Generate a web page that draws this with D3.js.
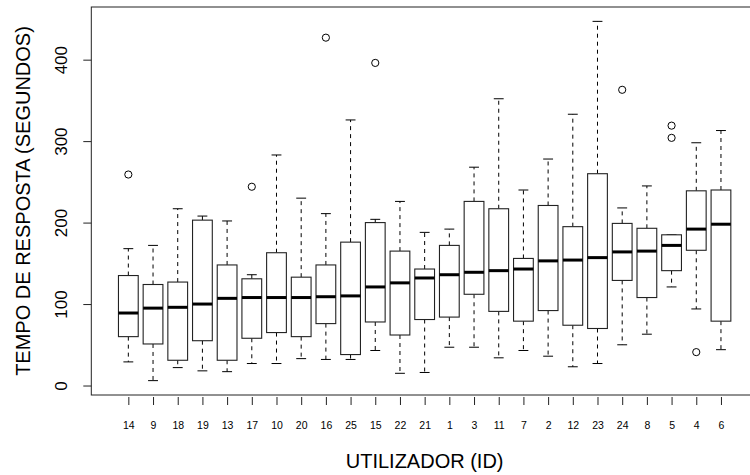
<!DOCTYPE html>
<html>
<head>
<meta charset="utf-8">
<script src="https://cdn.jsdelivr.net/npm/d3@7"></script>
<style>
    body { margin: 0; background: #fff; }
    svg { display: block; font-family: "Liberation Sans", Arial, sans-serif; }
</style>
</head>
<body>
<div id="chart"></div>
<script>
// users, in the order they are plotted (sorted by median)
const ids = [14, 9, 18, 19, 13, 17, 10, 20, 16, 25, 15, 22, 21, 1, 3, 11, 7, 2, 12, 23, 24, 8, 5, 4, 6];

// five number summaries (seconds)
const whiskerLow = [29, 6, 22, 18, 17, 27, 27, 33, 32, 32, 43, 15, 16, 47, 47, 34, 43, 36, 23, 27, 50, 63, 121, 94, 44];
const q1 = [60, 51, 31, 55, 31, 58, 65, 60, 76, 38, 78, 62, 81, 84, 112, 91, 79, 92, 74, 70, 129, 108, 141, 166, 79];
const medians = [89, 95, 96, 100, 107, 108, 108, 108, 109, 110, 121, 126, 132, 136, 139, 141, 143, 153, 154, 157, 164, 165, 172, 192, 198];
const q3 = [135, 124, 127, 203, 148, 131, 163, 133, 148, 176, 200, 165, 143, 172, 226, 217, 156, 221, 195, 260, 199, 193, 185, 239, 240];
const whiskerHigh = [168, 172, 217, 208, 202, 136, 283, 230, 211, 326, 204, 226, 188, 192, 268, 352, 240, 278, 333, 447, 218, 245, 185, 298, 313];

// outliers: user id + value
const outlierIds = [14, 17, 16, 15, 24, 5, 5, 4];
const outlierValues = [259, 244, 427, 396, 363, 319, 304, 41];

const yTicks = [0, 100, 200, 300, 400];

const width = 750;
const height = 475;
const plot = { left: 91.3, right: 758, top: 7, bottom: 395 };

const boxes = ids.map((id, i) => ({
    id: id,
    pos: i + 1,
    lo: whiskerLow[i],
    q1: q1[i],
    med: medians[i],
    q3: q3[i],
    hi: whiskerHigh[i]
}));
const outliers = outlierIds.map((id, i) => ({ pos: ids.indexOf(id) + 1, value: outlierValues[i] }));

// R style 4% extension of the data range
const allVals = whiskerLow.concat(whiskerHigh, outlierValues);
const yMin = d3.min(allVals), yMax = d3.max(allVals);
const pad = (yMax - yMin) * 0.04;

const x = d3.scaleLinear()
    .domain([-0.5, ids.length + 1.5])
    .range([plot.left, plot.right]);

const y = d3.scaleLinear()
    .domain([yMin - pad, yMax + pad])
    .range([plot.bottom, plot.top]);

const svg = d3.select('#chart').append('svg')
    .attr('width', width)
    .attr('height', height);

const unit = x(1) - x(0);
const boxW = unit * 0.8;
const capW = boxW / 2;

const g = svg.selectAll('g.box')
    .data(boxes)
    .enter()
    .append('g')
    .attr('class', 'box');

// dashed whiskers
g.append('line')
    .attr('x1', d => x(d.pos)).attr('x2', d => x(d.pos))
    .attr('y1', d => y(d.q3)).attr('y2', d => y(d.hi))
    .attr('stroke', '#000').attr('stroke-dasharray', '4,4');
g.append('line')
    .attr('x1', d => x(d.pos)).attr('x2', d => x(d.pos))
    .attr('y1', d => y(d.q1)).attr('y2', d => y(d.lo))
    .attr('stroke', '#000').attr('stroke-dasharray', '4,4');

// caps
g.append('line')
    .attr('x1', d => x(d.pos) - capW / 2).attr('x2', d => x(d.pos) + capW / 2)
    .attr('y1', d => y(d.hi)).attr('y2', d => y(d.hi))
    .attr('stroke', '#000');
g.append('line')
    .attr('x1', d => x(d.pos) - capW / 2).attr('x2', d => x(d.pos) + capW / 2)
    .attr('y1', d => y(d.lo)).attr('y2', d => y(d.lo))
    .attr('stroke', '#000');

// box
g.append('rect')
    .attr('x', d => x(d.pos) - boxW / 2)
    .attr('width', boxW)
    .attr('y', d => y(d.q3))
    .attr('height', d => y(d.q1) - y(d.q3))
    .attr('fill', '#fff')
    .attr('stroke', '#222')
    .attr('stroke-width', 1.1);

// median
g.append('line')
    .attr('x1', d => x(d.pos) - boxW / 2).attr('x2', d => x(d.pos) + boxW / 2)
    .attr('y1', d => y(d.med)).attr('y2', d => y(d.med))
    .attr('stroke', '#000').attr('stroke-width', 3);

// outliers
svg.selectAll('circle.outlier')
    .data(outliers)
    .enter()
    .append('circle')
    .attr('class', 'outlier')
    .attr('cx', d => x(d.pos))
    .attr('cy', d => y(d.value))
    .attr('r', 3.6)
    .attr('fill', 'none')
    .attr('stroke', '#000');

// frame
svg.append('rect')
    .attr('x', plot.left).attr('y', plot.top)
    .attr('width', plot.right - plot.left)
    .attr('height', plot.bottom - plot.top)
    .attr('fill', 'none')
    .attr('stroke', '#222');

// y axis, labels parallel to the axis
const yAxis = svg.append('g')
    .attr('transform', `translate(${plot.left},0)`)
    .call(d3.axisLeft(y).tickValues(yTicks).tickSize(8).tickSizeOuter(0));
yAxis.select('.domain').remove();
yAxis.selectAll('.tick line').attr('stroke', '#222');
yAxis.selectAll('.tick text')
    .attr('x', null).attr('dy', null)
    .attr('text-anchor', 'middle')
    .attr('transform', 'translate(-24,0) rotate(-90)')
    .attr('font-size', '17px')
    .attr('font-family', '"Liberation Sans", Arial, sans-serif')
    .attr('fill', '#000');

// x axis
const xAxis = svg.append('g')
    .attr('transform', `translate(0,${plot.bottom + 2})`)
    .call(d3.axisBottom(x)
        .tickValues(d3.range(1, ids.length + 1))
        .tickFormat(i => ids[i - 1])
        .tickSize(8)
        .tickSizeOuter(0));
xAxis.select('.domain').remove();
xAxis.selectAll('.tick line').attr('stroke', '#222');
xAxis.selectAll('.tick text')
    .attr('y', 32).attr('dy', null)
    .attr('font-size', '10.5px')
    .attr('font-family', '"Liberation Sans", Arial, sans-serif')
    .attr('fill', '#000');

// axis titles
svg.append('text')
    .attr('transform', `translate(30,${(plot.top + plot.bottom) / 2}) rotate(-90)`)
    .attr('text-anchor', 'middle')
    .attr('font-size', '20px')
    .text('TEMPO DE RESPOSTA (SEGUNDOS)');

svg.append('text')
    .attr('x', (plot.left + plot.right) / 2)
    .attr('y', 468)
    .attr('text-anchor', 'middle')
    .attr('font-size', '20px')
    .text('UTILIZADOR (ID)');
</script>
</body>
</html>
